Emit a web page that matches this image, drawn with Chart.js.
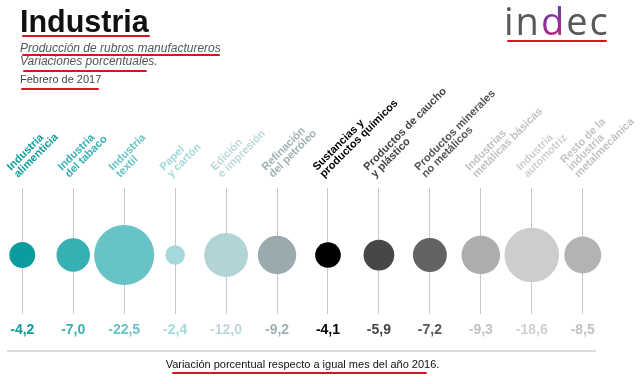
<!DOCTYPE html>
<html><head><meta charset="utf-8">
<script src="https://cdn.jsdelivr.net/npm/chart.js@4.4.1/dist/chart.umd.min.js"></script>
<style>
html,body{margin:0;padding:0;background:#fff;}
#wrap{position:relative;width:640px;height:384px;overflow:hidden;font-family:"Liberation Sans",Arial,Helvetica,sans-serif;}
#c{position:absolute;left:0;top:0;}
.t{position:absolute;white-space:nowrap;line-height:1;}
.red{position:absolute;height:2px;background:#d8141e;border-radius:1px;}
</style></head><body>
<div id="wrap">
<canvas id="c" width="640" height="384"></canvas>
<div class="t" style="left:20px;top:6px;font-size:30.5px;font-weight:bold;color:#111;">Industria</div>
<div class="t" style="left:20px;top:42px;font-size:12px;font-style:italic;color:#555;">Producción de rubros manufactureros</div>
<div class="t" style="left:20px;top:55px;font-size:12px;font-style:italic;color:#555;">Variaciones porcentuales.</div>
<div class="t" style="left:20px;top:74px;font-size:11px;color:#444;">Febrero de 2017</div>
<div class="t" style="left:504px;top:1px;font-size:38px;font-family:'Open Sans',sans-serif;color:#58585b;letter-spacing:2px;">in<span style="background:linear-gradient(160deg,#2f57b5 0%,#8a2f9c 50%,#e0216a 100%);-webkit-background-clip:text;background-clip:text;color:transparent;">d</span>ec</div>
<div class="red" style="left:22px;top:35px;width:128px;"></div>
<div class="red" style="left:22px;top:54px;width:198px;"></div>
<div class="red" style="left:23px;top:70px;width:124px;"></div>
<div class="red" style="left:21px;top:88px;width:78px;"></div>
<div class="red" style="left:507px;top:40px;width:100px;"></div>
<div class="red" style="left:172px;top:372px;width:255px;"></div>
</div>
<script>
const categories = [
  ["Industria","alimenticia"],
  ["Industria","del tabaco"],
  ["Industria","textil"],
  ["Papel","y cartón"],
  ["Edición","e impresión"],
  ["Refinación","del petróleo"],
  ["Sustancias y","productos químicos"],
  ["Productos de caucho","y plástico"],
  ["Productos minerales","no metálicos"],
  ["Industrias","metálicas básicas"],
  ["Industria","automotriz"],
  ["Resto de la","industria","metalmecánica"]
];
const values = [-4.2, -7.0, -22.5, -2.4, -12.0, -9.2, -4.1, -5.9, -7.2, -9.3, -18.6, -8.5];
const tickLabels = ["-4,2","-7,0","-22,5","-2,4","-12,0","-9,2","-4,1","-5,9","-7,2","-9,3","-18,6","-8,5"];
const footnote = "Variación porcentual respecto a igual mes del año 2016.";

const bubbleColors = ["#0d9c9e","#36b0b3","#67c3c6","#a4d9db","#b2d4d6","#9aabb0","#000000","#474747","#636363","#adadad","#cdcdcd","#b3b3b3"];
const textColors   = ["#0d9c9e","#36b0b3","#67c3c6","#a4d9db","#bcd8da","#9fb0b4","#000000","#444444","#555555","#c2c2c2","#cfcfcf","#c2c2c2"];

const FONT = '"Liberation Sans", Arial, Helvetica, sans-serif';
const K = 6.33;

const labelPlugin = {
  id: 'catLabels',
  afterDraw(chart) {
    const {ctx, chartArea, scales} = chart;
    const x = scales.x;
    ctx.save();
    ctx.font = 'bold 11px ' + FONT;
    ctx.textAlign = 'left';
    ctx.textBaseline = 'alphabetic';
    categories.forEach((lines, i) => {
      const px = x.getPixelForValue(i);
      ctx.save();
      ctx.translate(px - 4, chartArea.top - 10);
      ctx.rotate(-Math.PI / 4);
      ctx.fillStyle = textColors[i];
      const n = lines.length;
      lines.forEach((ln, j) => ctx.fillText(ln, 0, -(n - 1 - j) * 10));
      ctx.restore();
    });
    ctx.strokeStyle = '#cfcfcf';
    ctx.lineWidth = 1.5;
    const yl = chartArea.bottom + 37;
    ctx.beginPath();
    ctx.moveTo(chartArea.left, yl);
    ctx.lineTo(chartArea.right - 2, yl);
    ctx.stroke();
    ctx.restore();
  }
};

new Chart(document.getElementById('c'), {
  type: 'bubble',
  data: {
    datasets: [{
      data: values.map((v, i) => ({x: i, y: 0, r: K * Math.sqrt(Math.abs(v))})),
      backgroundColor: bubbleColors,
      borderWidth: 0,
      hoverBorderWidth: 0,
      clip: false
    }]
  },
  options: {
    responsive: false,
    animation: false,
    events: [],
    layout: {autoPadding: false, padding: {top: 188, left: 7, right: 42, bottom: 12}},
    plugins: {legend: {display: false}, title: {display: false}, tooltip: {enabled: false}},
    scales: {
      x: {
        type: 'linear',
        min: -0.3,
        max: 11.3,
        afterBuildTicks: s => { s.ticks = values.map((_, i) => ({value: i})); },
        afterFit: s => { s.paddingLeft = 0; s.paddingRight = 0; },
        grid: {color: '#c8c8c8', lineWidth: 1, drawTicks: false},
        border: {display: false},
        ticks: {
          autoSkip: false,
          maxRotation: 0,
          padding: 8,
          font: {family: FONT, size: 14, weight: 'bold'},
          color: ctx => textColors[ctx.index],
          callback: (v, i) => tickLabels[i]
        },
        title: {
          display: true,
          text: footnote,
          color: '#111',
          font: {family: FONT, size: 11},
          padding: {top: 12, bottom: 0}
        }
      },
      y: {display: false, min: -0.88, max: 1}
    }
  },
  plugins: [labelPlugin]
});
</script>
</body></html>
